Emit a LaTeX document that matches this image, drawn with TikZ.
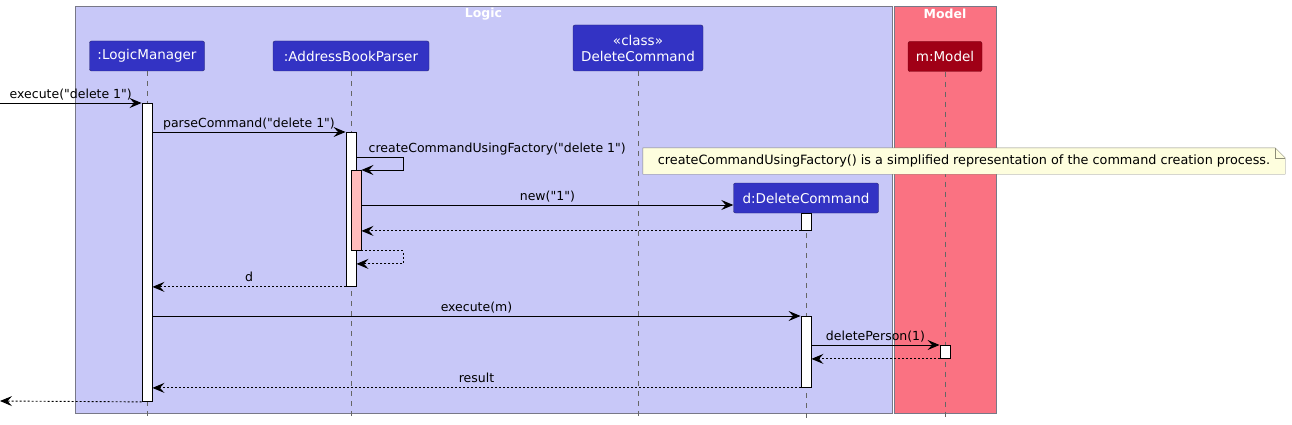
\documentclass[tikz,border=0pt]{standalone}
\usepackage{fontspec}
\setmainfont{DejaVu Sans}[Ligatures=TeXOff]
\usetikzlibrary{arrows.meta}

\definecolor{logic area}{RGB}{200,200,248}
\definecolor{model area}{RGB}{250,114,130}
\definecolor{area edge}{RGB}{120,120,135}
\definecolor{party blue}{RGB}{51,51,196}
\definecolor{party red}{RGB}{160,0,22}
\definecolor{party edge}{RGB}{40,40,110}
\definecolor{note paper}{RGB}{254,254,222}
\definecolor{note edge}{RGB}{140,140,120}
\definecolor{nested bar}{RGB}{255,187,187}

\begin{document}
\begin{tikzpicture}[x=1pt,y=-1pt,font=\fontsize{12.5}{15}\selectfont,
  party/.style={fill=party blue, draw=party edge, rounded corners=2pt, text=white, minimum height=30pt, inner xsep=6pt, font=\fontsize{13.5}{16}\selectfont},
  bar/.style={fill=white, draw=black, line width=0.9pt, minimum width=10pt, inner sep=0pt, anchor=north},
  life/.style={draw=gray!80!black, line width=0.9pt, dash pattern=on 5pt off 5pt},
  call/.style={line width=0.9pt, -{Stealth[length=12pt,width=10pt,inset=4.5pt]}},
  reply/.style={call, dash pattern=on 2pt off 2pt},
  lbl/.style={above, inner sep=2pt, text height=0.75em, text depth=0.25em},
  memo/.style={fill=note paper, minimum width=642pt, minimum height=26pt, inner sep=0pt, font=\fontsize{12.8}{15}\selectfont}]
\useasboundingbox (0,0) rectangle (1292,425);

% boxes
\draw[fill=logic area, draw=area edge] (75,6) rectangle (892,413);
\draw[fill=model area, draw=area edge] (894,6) rectangle (996,413);
\node[text=white, font=\fontsize{12.5}{15}\selectfont\bfseries] (logictitle) at (483.5,14) {Logic};
\node[text=white, font=\fontsize{12.5}{15}\selectfont\bfseries] (modeltitle) at (945,14) {Model};

% participants
\node[party, minimum width=115pt] (lm) at (147,56) {:LogicManager};
\node[party, minimum width=156pt] (abp) at (351,56) {:AddressBookParser};
\node[party, minimum width=130pt, minimum height=46pt, align=center] (dcls) at (638,48) {«class»\\DeleteCommand};
\node[party, fill=party red, draw=party red!70!black, minimum width=74pt] (mdl) at (945,56.5) {m:Model};
\node[party, minimum width=145pt] (dnew) at (806,198) {d:DeleteCommand};

\foreach \p in {lm,abp,dcls,mdl,dnew}
  \draw[life] (\p.south) -- (\p.south |- 0,420);

% activations
\node[bar, minimum height=298pt] (lmbar) at (147,103) {};
\node[bar, minimum height=154pt] (abpbar) at (351,132) {};
\node[bar, fill=nested bar, minimum height=80pt] (pinkbar) at (356,170) {};
\node[bar, minimum height=17pt] (dbarA) at (806,213) {};
\node[bar, minimum height=71pt] (dbarB) at (806,316) {};
\node[bar, minimum height=13pt] (mbar) at (945,345) {};

\coordinate (in) at (0,103);
\coordinate (out) at (0,401);

% messages
\draw[call] (in) -- (lmbar.north west) node[lbl, midway] {execute("delete 1")};
\draw[call] (lmbar.east |- abpbar.north) -- (abpbar.north west) node[lbl, midway] {parseCommand("delete 1")};
\draw[call] ([yshift=-25pt]abpbar.north east) -- ++(47,0) |- (pinkbar.north east);
\node[anchor=south west, inner sep=2pt, text height=0.75em, text depth=0.25em] (selflbl) at ([xshift=10pt,yshift=-25pt]abpbar.north east) {createCommandUsingFactory("delete 1")};
\draw[call] (pinkbar.east |- 0,205) -- ([yshift=-7pt]dnew.west) node[lbl, midway] {new("1")};
\draw[reply] (dbarA.south west) -- (pinkbar.east |- dbarA.south);
\draw[reply] (pinkbar.south east) -- ++(42,0) |- ([yshift=-13pt]pinkbar.south -| abpbar.east);
\draw[reply] (abpbar.south west) -- (lmbar.east |- abpbar.south) node[lbl, midway] {d};
\draw[call] (lmbar.east |- dbarB.north) -- (dbarB.north west) node[lbl, midway] {execute(m)};
\draw[call] (dbarB.east |- mbar.north) -- (mbar.north west) node[lbl, midway] {deletePerson(1)};
\draw[reply] (mbar.south west) -- (dbarB.east |- mbar.south);
\draw[reply] (dbarB.south west) -- (lmbar.east |- dbarB.south) node[lbl, midway] {result};
\draw[reply] (lmbar.south west) -- (out);

% note
\node[memo] (memo) at (964,161) {createCommandUsingFactory() is a simplified representation of the command creation process.};
\fill[white] ([xshift=-10pt]memo.north east) -- (memo.north east) -- ([yshift=-10pt]memo.north east) -- cycle;
\draw[note edge] (memo.north west) -- ([xshift=-10pt]memo.north east) -- ([yshift=-10pt]memo.north east) -- (memo.south east) -- (memo.south west) -- cycle;
\draw[note edge] ([xshift=-10pt]memo.north east) |- ([yshift=-10pt]memo.north east);
\end{tikzpicture}
\end{document}
